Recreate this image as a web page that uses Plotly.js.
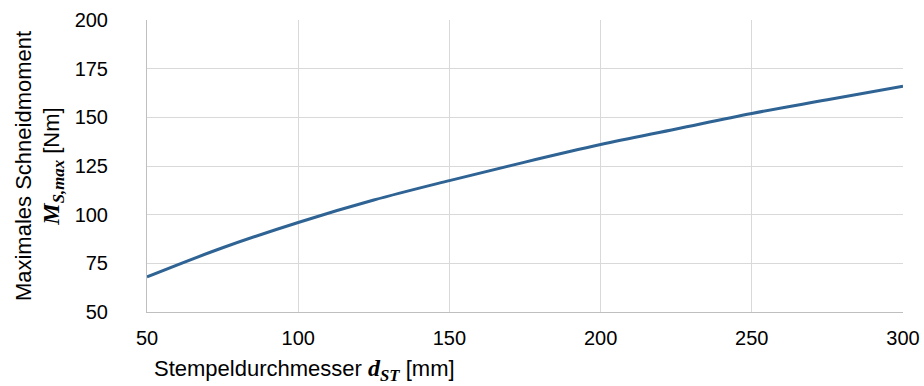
<!DOCTYPE html>
<html><head><meta charset="utf-8">
<script src="https://cdn.plot.ly/plotly-3.0.1.min.js"></script>
<style>html,body{margin:0;padding:0;background:#fff;}#chart{width:924px;height:386px;}</style>
</head><body><div id="chart"></div>
<script>
const diameter = [50, 75, 100, 125, 150, 175, 200, 225, 250, 275, 300];
const moment = [68, 83, 96, 107.5, 117.5, 127, 136, 144, 152, 159, 166];
const xTicks = [50, 100, 150, 200, 250, 300];
const yTicks = [50, 75, 100, 125, 150, 175, 200];

const mathFont = "font-family:'Liberation Serif';font-size:24px";
const data = [{
  x: diameter, y: moment, type: 'scatter', mode: 'lines',
  line: {color: '#2E6394', width: 3, shape: 'spline'},
  hoverinfo: 'skip'
}];
const layout = {
  width: 924, height: 386,
  margin: {l: 147, r: 21, t: 20, b: 74},
  paper_bgcolor: '#fff', plot_bgcolor: '#fff',
  font: {family: 'Liberation Sans, Arial, sans-serif', size: 20, color: '#000'},
  showlegend: false,
  xaxis: {
    range: [50, 300], tickvals: xTicks, ticktext: xTicks.map(String),
    showgrid: true, gridcolor: '#d9d9d9', gridwidth: 1,
    showline: true, linecolor: '#bfbfbf', linewidth: 1, zeroline: false,
    ticks: '', ticklen: 0, ticklabelstandoff: 8,
    tickfont: {size: 20}
  },
  yaxis: {
    range: [50, 200], tickvals: yTicks, ticktext: yTicks.map(String),
    showgrid: true, gridcolor: '#d9d9d9', gridwidth: 1,
    showline: true, linecolor: '#bfbfbf', linewidth: 1, zeroline: false,
    ticks: '', ticklen: 0, ticklabelstandoff: 34,
    tickfont: {size: 20},
    title: {text: "Maximales Schneidmoment<br><span style=\"" + mathFont + "\"><b><i>M</i></b><sub><b><i>S,max</i></b></sub></span> [Nm]", font: {size: 22}, standoff: 8}
  },
  annotations: [{
    text: "Stempeldurchmesser <span style=\"" + mathFont + "\"><b><i>d</i></b><sub><b><i>ST</i></b></sub></span> [mm]",
    xref: 'paper', yref: 'paper', x: 0.0066, y: -0.1986,
    xanchor: 'left', yanchor: 'middle', showarrow: false,
    font: {size: 22}
  }]
};
Plotly.newPlot('chart', data, layout, {displayModeBar: false, staticPlot: true});
</script></body></html>
